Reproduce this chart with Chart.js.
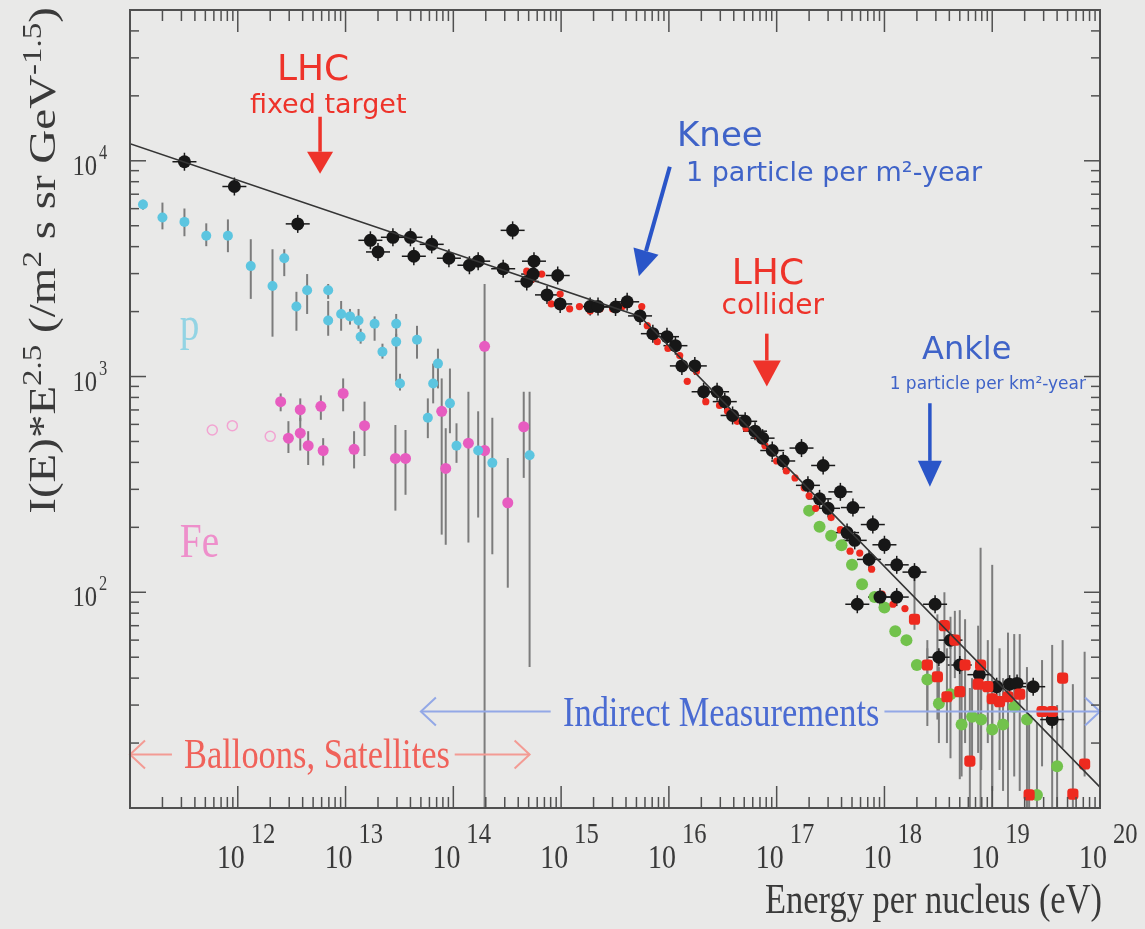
<!DOCTYPE html>
<html>
<head>
<meta charset="utf-8">
<script src="https://cdn.jsdelivr.net/npm/chart.js@4/dist/chart.umd.min.js"></script>
<style>
  html, body { margin: 0; padding: 0; background: #e9e9e8; }
  #wrap { width: 1145px; height: 929px; position: relative; }
</style>
</head>
<body>
<div id="wrap"><canvas id="spectrum"></canvas></div>
<script>
// all-particle spectrum (black)
const allE = [3.2e11, 9.3e11, 3.6e12, 1.7e13, 2.0e13, 2.75e13, 4.0e13, 4.3e13, 6.3e13, 9.1e13,
  1.41e14, 1.7e14, 2.9e14, 3.55e14, 4.8e14, 5.5e14, 5.6e14, 7.4e14, 9.3e14, 9.8e14,
  1.86e15, 2.2e15, 3.2e15, 4.1e15, 5.4e15, 7.1e15, 9.6e15, 1.15e16, 1.32e16, 1.74e16,
  2.1e16, 2.8e16, 3.3e16, 3.9e16, 5.1e16, 6.3e16, 7.4e16, 9.1e16, 1.15e17, 1.7e17,
  1.95e17, 2.5e17, 2.7e17, 3.0e17, 3.9e17, 4.5e17, 5.1e17, 5.3e17, 5.6e17, 7.2e17,
  7.8e17, 9.1e17, 1.0e18, 1.3e18, 1.3e18, 1.9e18, 2.95e18, 3.2e18, 4.1e18, 5.0e18,
  7.6e18, 1.1e19, 1.45e19, 1.7e19, 2.4e19, 3.6e19];
const allY = [9900, 7600, 5100, 4280, 3780, 4420, 4420, 3610, 4100, 3535,
  3280, 3425, 3160, 4760, 2760, 2985, 3425, 2390, 2940, 2170,
  2110, 2110, 2100, 2220, 1910, 1580, 1530, 1390, 1120, 1120,
  850, 850, 765, 660, 620, 558, 518, 454, 406, 466,
  313, 271, 387, 245, 292, 189, 247, 174, 88, 142,
  206, 95, 166, 134, 95, 124, 88, 50, 60, 46,
  41.5, 36.5, 37.5, 37.8, 36.5, 25.7];

// small red dots around the knee
const redSmallE = [4.8e14, 5.4e14, 6.6e14, 8.1e14, 9.8e14, 1.2e15, 1.48e15, 1.86e15, 2.3e15, 3.0e15,
  3.7e15, 5.6e15, 6.3e15, 7.8e15, 9.8e15, 1.26e16, 1.48e16, 1.8e16, 2.2e16, 2.95e16,
  3.5e16, 4.3e16, 5.2e16, 6.6e16, 7.8e16, 1.0e17, 1.23e17, 1.48e17, 1.8e17, 2.0e17,
  2.3e17, 3.2e17, 3.9e17, 4.8e17, 5.9e17, 7.6e17, 9.5e17, 1.2e18, 1.55e18];
const redSmallY = [3080, 2830, 2985, 2170, 2410, 2060, 2110, 2015, 2060, 2060,
  2110, 2110, 1720, 1450, 1350, 1250, 950, 1055, 765, 735,
  690, 620, 576, 535, 478, 406, 365, 339, 305, 280,
  245, 222, 195, 155, 152, 128, 98, 88, 84];

// big red points, highest energies
const redBigE = [1.9e18, 2.5e18, 3.1e18, 3.6e18, 3.8e18, 4.5e18, 5.0e18, 5.6e18, 6.2e18, 7.4e18,
  7.8e18, 9.1e18, 1.0e19, 1.17e19, 1.4e19, 1.8e19, 2.2e19, 2.9e19, 3.6e19, 4.5e19, 5.6e19, 7.2e19];
const redBigY = [75, 46, 40.6, 70, 32.8, 60, 34.6, 46, 16.5, 37.5,
  46, 36.5, 32.1, 31.1, 32.8, 33.7, 11.5, 28, 28, 40, 11.6, 16];
const redBigHi = [130, 60, 79, 100, 55, 82, 82.6, 75, 36, 70,
  161, 60, 134, 55, 65, 64, 26.5, 48.5, 57, 60, 37.5, 53];
const redBigLo = [67, 24, 25.7, 50, 20, 40, 13.6, 20, 10, 18,
  10, 20, 10, 15, 10, 12, 10, 15.6, 10, 19, 10, 14];

// green points
const greenE = [2.0e17, 2.5e17, 3.2e17, 4.0e17, 5.0e17, 6.2e17, 8.1e17, 1.0e18, 1.26e18, 1.6e18,
  2.0e18, 2.5e18, 3.2e18, 4.1e18, 5.2e18, 6.5e18, 7.9e18, 1.0e19, 1.26e19, 1.6e19, 2.1e19, 2.6e19, 4.0e19];
const greenY = [239, 201, 183, 165, 134, 109, 95, 85, 66, 60,
  46, 39.4, 30.5, 33.7, 24.4, 26.5, 25.7, 23.1, 24.4, 29.5, 25.7, 11.5, 15.6];
const greenHi = [null, null, null, null, null, null, null, null, null, null,
  null, 55, 45, 77, 45, 40, 40, 40, 40, 64, 45, 25, 30];
const greenLo = [null, null, null, null, null, null, null, null, null, null,
  null, 28, 20, 17, 14, 16, 15, 12, 12, 14, 10, 10, 10];

// protons (cyan)
const pE = [1.32e11, 2.0e11, 3.2e11, 5.1e11, 8.1e11, 1.32e12, 2.1e12, 2.7e12, 3.5e12, 4.4e12,
  6.9e12, 6.9e12, 9.1e12, 1.1e13, 1.32e13, 1.38e13, 1.86e13, 2.2e13, 2.95e13, 2.95e13,
  3.2e13, 4.6e13, 5.8e13, 6.5e13, 7.2e13, 9.3e13, 1.07e14, 1.7e14, 2.3e14, 5.1e14];
const pY = [6270, 5460, 5210, 4490, 4490, 3250, 2630, 3535, 2113, 2510,
  2510, 1820, 1950, 1900, 1820, 1528, 1755, 1303, 1755, 1450,
  929, 1480, 644, 929, 1148, 751, 478, 454, 398, 432];
const pHi = [6600, 6400, 6010, 5130, 5350, 4330, 3890, 3890, 2470, 2985,
  2685, 2240, 2240, 2057, 2057, 1665, 1900, 1420, 1950, 1578,
  1030, 1718, 792, 1148, 1346, 1089, 607, 690, 644, 850];
const pLo = [5940, 4810, 4470, 4020, 3770, 2290, 1530, 2920, 1630, 1950,
  2290, 1545, 1630, 1740, 1665, 1420, 1465, 1210, 948, 1346,
  861, 1210, 518, 751, 881, 546, 398, 222, 150, 45];

// iron (magenta)
const feE = [2.5e12, 3.8e12, 5.9e12, 9.5e12, 1.5e13, 2.95e12, 3.8e12, 4.5e12, 6.2e12, 1.2e13,
  2.9e13, 3.6e13, 7.8e13, 8.5e13, 1.38e14, 1.95e14, 1.95e14, 3.2e14, 4.5e14];
const feY = [765, 702, 728, 835, 592, 518, 546, 478, 454, 460,
  417, 417, 690, 375, 491, 1380, 454, 260, 585];
const feHi = [835, 792, 818, 980, 765, 621, 644, 558, 518, 558,
  596, 565, 980, 576, 850, 2685, 454, 419, 850];
const feLo = [690, 621, 630, 690, 428, 442, 454, 389, 387, 375,
  239, 283, 185, 166, 170, 10, 454, 105, 339];

// open iron circles at low energy
const feOpenE = [5.8e11, 8.9e11, 2.0e12];
const feOpenY = [565, 592, 528];

// broken power-law fit
const fitE = [1e11, 5.4e15, 1e20];
const fitY = [1.2e4, 1900, 12.5];

const xDecades = [12, 13, 14, 15, 16, 17, 18, 19, 20];
const yDecades = [2, 3, 4];

const RED = '#ee332a';
const BLUE = '#3f63c8';
const INK = '#3a3a3a';

function pts(xs, ys) {
  return xs.map((x, i) => ({ x: x, y: ys[i] }));
}

const notes = [
  { t: 'LHC', E: 5.0e12, Y: 2.36e4, size: 36, color: RED, align: 'center' },
  { t: 'fixed target', E: 6.9e12, Y: 1.66e4, size: 27, color: RED, align: 'center' },
  { t: 'Knee', E: 1.19e16, Y: 1.17e4, size: 34, color: BLUE, align: 'left' },
  { t: '1 particle per m²-year', E: 1.44e16, Y: 8090, size: 27, color: BLUE, align: 'left' },
  { t: 'LHC', E: 8.3e16, Y: 2690, size: 36, color: RED, align: 'center' },
  { t: 'collider', E: 9.2e16, Y: 1950, size: 28, color: RED, align: 'center' },
  { t: 'Ankle', E: 5.8e18, Y: 1210, size: 32, color: BLUE, align: 'center' },
  { t: '1 particle per km²-year', E: 9.1e18, Y: 871, size: 17, color: BLUE, align: 'center' }
];
const serifNotes = [
  { t: 'p', E: 2.9e11, Y: 1470, size: 48, color: '#93d4e4' },
  { t: 'Fe', E: 2.9e11, Y: 145, size: 48, color: '#ee8fcb' },
  { t: 'Indirect Measurements', E: 1.04e15, Y: 23.9, size: 42, color: '#4a6bd2' },
  { t: 'Balloons, Satellites', E: 3.17e11, Y: 15.3, size: 42, color: '#f0625a' }
];
const solidArrows = [
  { E1: 5.8e12, Y1: 1.6e4, E2: 5.8e12, Y2: 8710, color: RED, w: 3.5, len: 22, head: 26 },
  { E1: 1.02e16, Y1: 9380, E2: 5.27e15, Y2: 2920, color: '#2a55c8', w: 4, len: 26, head: 26 },
  { E1: 8.1e16, Y1: 1580, E2: 8.1e16, Y2: 900, color: RED, w: 3.5, len: 26, head: 28 },
  { E1: 2.64e18, Y1: 752, E2: 2.64e18, Y2: 308, color: '#2a55c8', w: 3.5, len: 26, head: 24 }
];
const openArrows = [
  { E1: 8.0e14, E2: 5.0e13, Y: 28, color: '#93a8e6' },
  { E1: 1.0e18, E2: 1e20, Y: 28, color: '#93a8e6' },
  { E1: 2.45e11, E2: 1e11, Y: 17.7, color: '#f39b94' },
  { E1: 1.03e14, E2: 5.1e14, Y: 17.7, color: '#f39b94' }
];

function line(ctx, x1, y1, x2, y2) {
  ctx.beginPath(); ctx.moveTo(x1, y1); ctx.lineTo(x2, y2); ctx.stroke();
}

function serifText(ctx, str, x, y, size, align, color) {
  ctx.save();
  ctx.translate(x, y);
  ctx.scale(0.82, 1);
  ctx.font = size + 'px "Liberation Serif"';
  ctx.textAlign = align;
  ctx.textBaseline = 'alphabetic';
  ctx.fillStyle = color;
  ctx.fillText(str, 0, 0);
  ctx.restore();
}

function drawYTitle(ctx) {
  const runs = [['I(E)*E', 0], ['2.5', 1], [' (/m', 0], ['2', 1], [' s sr GeV', 0], ['-1.5', 1], [')', 0]];
  ctx.save();
  ctx.translate(55, 7);
  ctx.rotate(-Math.PI / 2);
  ctx.scale(1, 0.82);
  ctx.fillStyle = INK;
  ctx.textAlign = 'left';
  let total = 0;
  runs.forEach(r => {
    ctx.font = (r[1] ? 33 : 47) + 'px "Liberation Serif"';
    total += ctx.measureText(r[0]).width;
  });
  let pos = -total;
  runs.forEach(r => {
    ctx.font = (r[1] ? 33 : 47) + 'px "Liberation Serif"';
    ctx.fillText(r[0], pos, r[1] ? -17 : 0);
    pos += ctx.measureText(r[0]).width;
  });
  ctx.restore();
}

const decor = {
  id: 'decor',
  beforeDatasetsDraw(chart) {
    const { ctx, chartArea: a, scales: { x, y } } = chart;
    ctx.save();
    ctx.beginPath(); ctx.rect(a.left, a.top, a.right - a.left, a.bottom - a.top); ctx.clip();
    chart.data.datasets.forEach((ds, di) => {
      const meta = chart.getDatasetMeta(di);
      if (ds.errLo) {
        ctx.strokeStyle = '#7c7c7c'; ctx.lineWidth = 2;
        meta.data.forEach((el, i) => {
          if (ds.errLo[i] == null) return;
          line(ctx, el.x, y.getPixelForValue(ds.errHi[i]), el.x, y.getPixelForValue(ds.errLo[i]));
        });
      }
      if (ds.cross) {
        ctx.strokeStyle = '#1a1a1a'; ctx.lineWidth = 1.5;
        meta.data.forEach(el => {
          line(ctx, el.x - 12, el.y, el.x + 12, el.y);
          line(ctx, el.x, el.y - 9, el.x, el.y + 9);
        });
      }
    });
    ctx.restore();
  },
  afterDatasetsDraw(chart) {
    const { ctx, chartArea: a, scales: { x, y } } = chart;
    ctx.save();

    // annotations
    openArrows.forEach(ar => {
      const x1 = x.getPixelForValue(ar.E1), x2 = x.getPixelForValue(ar.E2), py = y.getPixelForValue(ar.Y);
      const dir = Math.sign(x2 - x1);
      ctx.strokeStyle = ar.color; ctx.lineWidth = 2;
      line(ctx, x1, py, x2, py);
      ctx.beginPath();
      ctx.moveTo(x2 - dir * 15, py - 14); ctx.lineTo(x2, py); ctx.lineTo(x2 - dir * 15, py + 14);
      ctx.stroke();
    });
    solidArrows.forEach(ar => {
      const x1 = x.getPixelForValue(ar.E1), y1 = y.getPixelForValue(ar.Y1);
      const x2 = x.getPixelForValue(ar.E2), y2 = y.getPixelForValue(ar.Y2);
      const ang = Math.atan2(y2 - y1, x2 - x1);
      const bx = x2 - ar.len * Math.cos(ang), by = y2 - ar.len * Math.sin(ang);
      ctx.strokeStyle = ar.color; ctx.lineWidth = ar.w;
      line(ctx, x1, y1, bx, by);
      ctx.fillStyle = ar.color;
      ctx.beginPath();
      ctx.moveTo(x2, y2);
      ctx.lineTo(bx + ar.head / 2 * Math.sin(ang), by - ar.head / 2 * Math.cos(ang));
      ctx.lineTo(bx - ar.head / 2 * Math.sin(ang), by + ar.head / 2 * Math.cos(ang));
      ctx.closePath(); ctx.fill();
    });
    notes.forEach(n => {
      ctx.font = n.size + 'px "DejaVu Sans"';
      ctx.fillStyle = n.color;
      ctx.textAlign = n.align;
      ctx.textBaseline = 'alphabetic';
      ctx.fillText(n.t, x.getPixelForValue(n.E), y.getPixelForValue(n.Y));
    });
    serifNotes.forEach(n => {
      serifText(ctx, n.t, x.getPixelForValue(n.E), y.getPixelForValue(n.Y), n.size, 'left', n.color);
    });

    // frame and inward ticks on all sides
    ctx.strokeStyle = '#505050'; ctx.lineWidth = 2;
    ctx.strokeRect(a.left, a.top, a.right - a.left, a.bottom - a.top);
    ctx.lineWidth = 1.5;
    for (let k = 11; k < 20; k++) {
      for (let m = 1; m < 10; m++) {
        const px = x.getPixelForValue(m * Math.pow(10, k));
        const len = m === 1 ? 22 : 11;
        line(ctx, px, a.bottom, px, a.bottom - len);
        line(ctx, px, a.top, px, a.top + len);
      }
    }
    for (let k = 1; k < 5; k++) {
      for (let m = 1; m < 10; m++) {
        const v = m * Math.pow(10, k);
        if (v > y.max) continue;
        const py = y.getPixelForValue(v);
        const len = m === 1 ? 16 : 9;
        line(ctx, a.left, py, a.left + len, py);
        line(ctx, a.right, py, a.right - len, py);
      }
    }

    // tick labels
    xDecades.forEach(k => {
      const px = x.getPixelForValue(Math.pow(10, k));
      serifText(ctx, '10', px + 7, a.bottom + 60, 34, 'right', INK);
      serifText(ctx, String(k), px + 13, a.bottom + 35, 30, 'left', INK);
    });
    yDecades.forEach(k => {
      const py = y.getPixelForValue(Math.pow(10, k));
      serifText(ctx, '10', 97, py + 14, 30, 'right', INK);
      serifText(ctx, String(k), 99, py - 2, 20, 'left', INK);
    });

    // axis titles
    serifText(ctx, 'Energy per nucleus (eV)', 1102, 913, 42, 'right', INK);
    drawYTitle(ctx);
    ctx.restore();
  }
};

const ctx = document.getElementById('spectrum').getContext('2d');
const spectrum = new Chart(ctx, {
  type: 'scatter',
  data: {
    datasets: [
      { label: 'fit', data: pts(fitE, fitY), showLine: true, borderColor: '#353535', borderWidth: 1.6,
        pointRadius: 0, order: 0 },
      { label: 'high energy', data: pts(redBigE, redBigY), pointStyle: 'rectRounded', pointRadius: 6.5,
        backgroundColor: '#ee2a1f', borderWidth: 0, errLo: redBigLo, errHi: redBigHi, order: 1 },
      { label: 'all particle', data: pts(allE, allY), pointRadius: 6.5, backgroundColor: '#171717',
        borderWidth: 0, cross: true, order: 2 },
      { label: 'knee region', data: pts(redSmallE, redSmallY), pointRadius: 3.6, backgroundColor: '#ee2a1f',
        borderWidth: 0, order: 3 },
      { label: 'green', data: pts(greenE, greenY), pointRadius: 6, backgroundColor: '#72c24c',
        borderWidth: 0, errLo: greenLo, errHi: greenHi, order: 4 },
      { label: 'p', data: pts(pE, pY), pointRadius: 5, backgroundColor: '#5cc5e0', borderWidth: 0,
        errLo: pLo, errHi: pHi, order: 5 },
      { label: 'Fe', data: pts(feE, feY), pointRadius: 5.5, backgroundColor: '#e75cc0', borderWidth: 0,
        errLo: feLo, errHi: feHi, order: 5 },
      { label: 'Fe open', data: pts(feOpenE, feOpenY), pointRadius: 5, backgroundColor: 'rgba(0,0,0,0)',
        borderColor: '#f2a4d2', borderWidth: 1.5, order: 6 }
    ]
  },
  options: {
    animation: false,
    responsive: true,
    maintainAspectRatio: false,
    devicePixelRatio: 1,
    layout: { padding: { left: 130, top: 10, right: 45, bottom: 121 } },
    scales: {
      x: { type: 'logarithmic', min: 1e11, max: 1e20, display: false },
      y: { type: 'logarithmic', min: 10, max: 5e4, display: false }
    },
    plugins: { legend: { display: false }, tooltip: { enabled: false } }
  },
  plugins: [decor]
});
</script>
</body>
</html>
